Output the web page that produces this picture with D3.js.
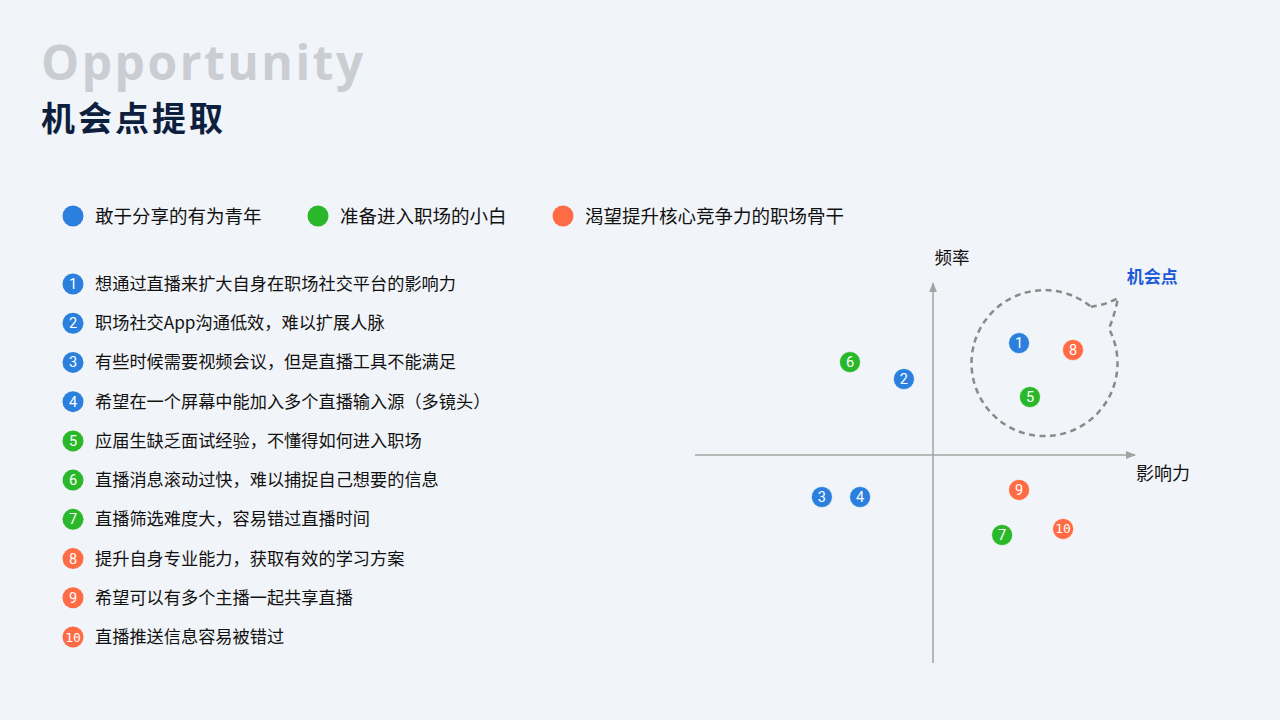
<!DOCTYPE html>
<html><head><meta charset="utf-8">
<script src="https://cdn.jsdelivr.net/npm/d3@7"></script>
<style>
html,body{margin:0;padding:0;background:#F1F4F8;}
svg{display:block;}
text{font-family:"Noto Sans CJK SC","Noto Sans",sans-serif;}
</style></head>
<body>
<svg id="c" width="1280" height="720"></svg>
<script>
const groups = ["敢于分享的有为青年","准备进入职场的小白","渴望提升核心竞争力的职场骨干"];
const groupColors = ["#2B80DE","#29B829","#FF6B44"];
const itemIds = [1,2,3,4,5,6,7,8,9,10];
const itemTexts = [
 "想通过直播来扩大自身在职场社交平台的影响力",
 "职场社交App沟通低效，难以扩展人脉",
 "有些时候需要视频会议，但是直播工具不能满足",
 "希望在一个屏幕中能加入多个直播输入源（多镜头）",
 "应届生缺乏面试经验，不懂得如何进入职场",
 "直播消息滚动过快，难以捕捉自己想要的信息",
 "直播筛选难度大，容易错过直播时间",
 "提升自身专业能力，获取有效的学习方案",
 "希望可以有多个主播一起共享直播",
 "直播推送信息容易被错过"
];
const itemGroup = [0,0,0,0,1,1,1,2,2,2];
// influence (x) and frequency (y) values, -100..100
const influence = [42.6,-14.4,-55,-36.1,48,-41.1,34.2,69.3,42.6,64.4];
const frequency = [55.4,37.6,-20.8,-20.8,28.7,46,-39.6,52,-17.3,-36.6];

const svg = d3.select("#c");

// Titles
svg.append("text").attr("x",41).attr("y",80).text("Opportunity")
  .style("font-family","'Open Sans',Lato,sans-serif")
  .attr("font-size",48).attr("font-weight",700).attr("fill","#CACDD1").attr("letter-spacing",2.5);
svg.append("text").attr("x",41).attr("y",131).text("机会点提取")
  .attr("font-size",34).attr("font-weight",700).attr("fill","#0E1F3E").attr("letter-spacing",3);

// Legend
const legendX = [73,318,563];
groups.forEach((g,i)=>{
  svg.append("circle").attr("cx",legendX[i]).attr("cy",216).attr("r",10.5).attr("fill",groupColors[i]);
  svg.append("text").attr("x",legendX[i]+22).attr("y",222.5).text(g)
    .attr("font-size",18.5).attr("fill","#111");
});

// List
const rowY = d3.scaleLinear().domain([1,10]).range([284,637]);
itemIds.forEach((id,i)=>{
  const y = rowY(id);
  svg.append("circle").attr("cx",73).attr("cy",y).attr("r",10.5).attr("fill",groupColors[itemGroup[i]]);
  svg.append("text").attr("x",73).attr("y",y+5).attr("text-anchor","middle").text(id)
    .attr("font-size",id===10?13:14.5).attr("fill","#fff")
    .style("font-family", id===10?"'DejaVu Sans Mono',monospace":"Roboto,'Noto Sans',sans-serif");
  svg.append("text").attr("x",95).attr("y",y+6).text(itemTexts[i])
    .attr("font-size",17.2).attr("fill","#111");
});

// Quadrant chart
const x = d3.scaleLinear().domain([-100,100]).range([731,1135]);
const y = d3.scaleLinear().domain([-100,100]).range([657,253]);
const axisColor = "#A3A3A3";
const defs = svg.append("defs");
defs.append("marker").attr("id","arr").attr("viewBox","0 0 10 10").attr("refX",9).attr("refY",5)
  .attr("markerWidth",10).attr("markerHeight",10).attr("markerUnits","userSpaceOnUse").attr("orient","auto")
  .append("path").attr("d","M0,1 L10,5 L0,9 Z").attr("fill",axisColor);

svg.append("line").attr("x1",x(-117.8)).attr("x2",x(100)).attr("y1",y(0)).attr("y2",y(0))
  .attr("stroke",axisColor).attr("stroke-width",1.5).attr("marker-end","url(#arr)");
svg.append("line").attr("x1",x(0)).attr("x2",x(0)).attr("y1",y(-103)).attr("y2",y(85))
  .attr("stroke",axisColor).attr("stroke-width",1.5).attr("marker-end","url(#arr)");

svg.append("text").attr("x",x(0)+19).attr("y",y(85)-19).attr("text-anchor","middle").text("频率")
  .attr("font-size",17.5).attr("fill","#111");
svg.append("text").attr("x",x(100)+28).attr("y",y(0)+25).attr("text-anchor","middle").text("影响力")
  .attr("font-size",18).attr("fill","#111");

// Opportunity bubble (dashed)
const cx = x(55.2), cy = y(45.5), r = 73;
const aA = -50.6*Math.PI/180, aB = -28*Math.PI/180;
const A = [cx + r*Math.cos(aA), cy + r*Math.sin(aA)];
const B = [cx + r*Math.cos(aB), cy + r*Math.sin(aB)];
const tip = [x(91.6), y(77.7)];
const bubble = `M${A[0]},${A[1]} Q${(A[0]+tip[0])/2},${(A[1]+tip[1])/2+3} ${tip[0]},${tip[1]} Q${tip[0]-3},${(tip[1]+B[1])/2} ${B[0]},${B[1]} A${r},${r} 0 1 1 ${A[0]},${A[1]}`;
svg.append("path").attr("d",bubble).attr("fill","none").attr("stroke","#8A8A8A")
  .attr("stroke-width",2.5).attr("stroke-dasharray","6,4.5");
svg.append("text").attr("x",x(108.5)).attr("y",y(85.3)).attr("text-anchor","middle").text("机会点")
  .attr("font-size",17).attr("font-weight",700).attr("fill","#1F5BD6");

// Points
const pts = svg.append("g").selectAll("g").data(itemIds).join("g")
  .attr("transform",(d,i)=>`translate(${x(influence[i])},${y(frequency[i])})`);
pts.append("circle").attr("r",10.5).attr("fill",(d,i)=>groupColors[itemGroup[i]])
  .attr("stroke","#ffffff").attr("stroke-opacity",0.6).attr("stroke-width",1);
pts.append("text").attr("text-anchor","middle").attr("y",d=>d===10?4.5:5).text(d=>d)
  .attr("font-size",d=>d===10?13:14.5).attr("fill","#fff")
  .style("font-family",d=>d===10?"'DejaVu Sans Mono',monospace":"Roboto,'Noto Sans',sans-serif");
</script>
</body></html>
